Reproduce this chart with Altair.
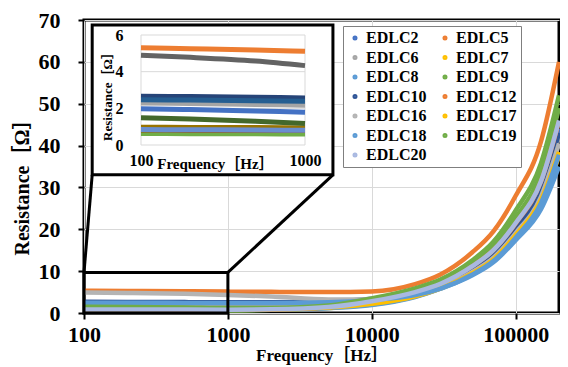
import altair as alt
import pandas as pd

SERIES = ["EDLC2", "EDLC5", "EDLC6", "EDLC7", "EDLC8", "EDLC9", "EDLC10",
          "EDLC12", "EDLC16", "EDLC17", "EDLC18", "EDLC19", "EDLC20"]
FREQ = [100, 200, 500, 1000, 2000, 5000, 10000, 20000, 30000, 50000,
        70000, 100000, 150000, 200000]

EDLC2 = [1.98, 1.93, 1.85, 1.79, 1.80, 2.15, 3.2, 5.0, 6.8, 10.8, 14.6, 20.8, 30.5, 44.0]
EDLC5 = [5.30, 5.25, 5.18, 5.11, 5.05, 5.00, 5.15, 6.9, 9.2, 14.5, 19.5, 28.0, 41.0, 60.0]
EDLC6 = [2.29, 2.26, 2.21, 2.17, 2.18, 2.40, 3.1, 4.7, 6.4, 10.1, 13.6, 19.6, 28.8, 42.0]
EDLC7 = [0.76, 0.75, 0.74, 0.73, 0.80, 1.20, 2.0, 3.9, 5.9, 9.3, 12.6, 18.2, 26.5, 37.5]
EDLC8 = [0.72, 0.71, 0.70, 0.70, 0.78, 1.15, 1.9, 3.8, 5.8, 9.0, 12.1, 17.4, 24.8, 35.0]
EDLC9 = [0.63, 0.62, 0.61, 0.60, 0.75, 1.45, 2.9, 5.3, 7.3, 11.7, 15.8, 22.8, 33.5, 49.0]
EDLC10 = [2.66, 2.64, 2.60, 2.57, 2.58, 2.80, 3.4, 4.9, 6.6, 10.5, 14.1, 20.3, 29.6, 43.0]
EDLC12 = [0.82, 0.81, 0.80, 0.79, 0.86, 1.40, 2.8, 5.0, 7.0, 11.2, 15.0, 21.4, 31.4, 45.8]
EDLC16 = [4.89, 4.78, 4.58, 4.33, 3.95, 3.25, 3.2, 4.5, 6.1, 9.8, 13.2, 19.1, 27.8, 40.5]
EDLC17 = [0.97, 0.96, 0.95, 0.93, 0.98, 1.30, 2.2, 4.0, 5.9, 9.5, 12.8, 18.6, 27.0, 38.5]
EDLC18 = [2.47, 2.45, 2.41, 2.38, 2.38, 2.55, 3.1, 4.3, 5.8, 9.2, 12.4, 18.0, 26.3, 37.8]
EDLC19 = [1.48, 1.42, 1.30, 1.17, 1.20, 1.80, 3.5, 5.9, 8.0, 12.6, 17.0, 24.5, 35.8, 52.0]
EDLC20 = [0.84, 0.83, 0.82, 0.80, 0.88, 1.42, 2.8, 5.0, 7.0, 11.2, 15.0, 21.5, 31.5, 46.0]

VALUES = [EDLC2, EDLC5, EDLC6, EDLC7, EDLC8, EDLC9, EDLC10, EDLC12,
          EDLC16, EDLC17, EDLC18, EDLC19, EDLC20]

MAIN_COLORS = ["#4472C4", "#ED7D31", "#A5A5A5", "#FFC000", "#5B9BD5", "#70AD47",
               "#2F5597", "#ED7D31", "#B4B4B4", "#FFC000", "#5B9BD5", "#70AD47",
               "#A9B9E1"]
INSET_COLORS = ["#4472C4", "#ED7D31", "#A5A5A5", "#FFC000", "#5B9BD5", "#70AD47",
                "#264478", "#9E480E", "#636363", "#997300", "#255E91", "#43682B",
                "#698ED0"]

X_TICKS = [100, 1000, 10000, 100000]
Y_TICKS = [0, 10, 20, 30, 40, 50, 60, 70]
INSET_X_TICKS = [100, 1000]
INSET_Y_TICKS = [0, 2, 4, 6]

ZOOM_F = [100, 1000]
ZOOM_R = [0, 9.7]
INSET_BOX_F = [114, 5370]
INSET_BOX_R = [33.0, 68.8]

FONT = "Liberation Serif, Noto Sans CJK JP"

rows = []
for name, vals in zip(SERIES, VALUES):
    for f, r in zip(FREQ, vals):
        rows.append({"series": name, "f": f, "r": r})
main_df = pd.DataFrame(rows)
inset_df = main_df[main_df["f"] <= 1000].reset_index(drop=True)

zoom_df = pd.DataFrame([{"f": ZOOM_F[0], "f2": ZOOM_F[1], "r": ZOOM_R[0], "r2": ZOOM_R[1]}])
conn_df = pd.DataFrame([
    {"f": ZOOM_F[0], "r": ZOOM_R[1], "f2": INSET_BOX_F[0], "r2": INSET_BOX_R[0]},
    {"f": ZOOM_F[1], "r": ZOOM_R[1], "f2": INSET_BOX_F[1], "r2": INSET_BOX_R[0]},
])
frame_df = pd.DataFrame([{"f": INSET_BOX_F[0], "f2": INSET_BOX_F[1],
                          "r": INSET_BOX_R[0], "r2": INSET_BOX_R[1]}])

grid_rows = []
for yv in INSET_Y_TICKS:
    grid_rows.append({"f": INSET_X_TICKS[0], "f2": INSET_X_TICKS[1], "r": yv, "r2": yv})
for xv in INSET_X_TICKS:
    grid_rows.append({"f": xv, "f2": xv, "r": INSET_Y_TICKS[0], "r2": INSET_Y_TICKS[-1]})
igrid_df = pd.DataFrame(grid_rows)

W, H = 475, 293

xs = alt.Scale(type="log", domain=[100, 200000], nice=False)
ys = alt.Scale(domain=[0, 70], nice=False)

common_axis = dict(labelFont=FONT, labelFontWeight="bold", labelColor="black",
                   titleFont=FONT, titleFontWeight="bold", titleColor="black",
                   labelFlush=False)

x_axis = alt.Axis(values=X_TICKS, format="d", grid=True, gridColor="#D9D9D9",
                  domain=False, ticks=True, tickColor="black", tickSize=6, tickWidth=2,
                  labelFontSize=22, labelPadding=5,
                  title="Frequency［Hz］", titleFontSize=17, titleY=42,
                  titleBaseline="middle", **common_axis)
y_axis = alt.Axis(values=Y_TICKS, grid=True, gridColor="#D9D9D9",
                  domain=False, ticks=True, tickColor="black", tickSize=6, tickWidth=2,
                  labelFontSize=22, labelPadding=18,
                  title="Resistance［Ω］", titleFontSize=20, titleX=-62, titleY=162,
                  titleAlign="center", titleBaseline="middle", titleAngle=270,
                  **common_axis)

legend = alt.Legend(orient="none", legendX=259, legendY=6, columns=2, direction="horizontal",
                    title=None, symbolType="circle", symbolSize=8, symbolStrokeWidth=2.2,
                    labelFont=FONT, labelFontSize=16, labelFontWeight="bold",
                    labelColor="black", labelOffset=3, rowPadding=3.5,
                    columnPadding=10, padding=4, fillColor="white",
                    strokeColor="#7F7F7F")

X = alt.X("f:Q", scale=xs, axis=x_axis)
Y = alt.Y("r:Q", scale=ys, axis=y_axis)

main_lines = alt.Chart(main_df).mark_line(strokeWidth=4.5, interpolate="monotone").encode(
    x=X, y=Y,
    color=alt.Color("series:N", scale=alt.Scale(domain=SERIES, range=MAIN_COLORS),
                    legend=legend),
)
zoom_rect = alt.Chart(zoom_df).mark_rect(fillOpacity=0, stroke="black", strokeWidth=3).encode(
    x=X, x2="f2:Q", y=Y, y2="r2:Q")
connectors = alt.Chart(conn_df).mark_rule(color="black", strokeWidth=3).encode(
    x=X, x2="f2:Q", y=Y, y2="r2:Q")
inset_frame = alt.Chart(frame_df).mark_rect(fill="white", stroke="black", strokeWidth=3).encode(
    x=X, x2="f2:Q", y=Y, y2="r2:Q")

main_group = alt.layer(main_lines, zoom_rect, connectors, inset_frame)

ixs = alt.Scale(type="log", domain=[100, 1000], nice=False, range=[57, 221])
iys = alt.Scale(domain=[0, 6], nice=False, range=[125, 15])

ix_axis = alt.Axis(orient="bottom", offset=-168, values=INSET_X_TICKS, format="d",
                   grid=False, domain=False, ticks=False, labelFontSize=16, labelPadding=7,
                   title="Frequency［Hz］", titleFontSize=15, titleX=131, titleY=18,
                   titleAlign="center", titleBaseline="middle", zindex=2, **common_axis)
iy_axis = alt.Axis(orient="left", offset=-57, values=INSET_Y_TICKS,
                   grid=False, domain=False, ticks=False, labelFontSize=16, labelPadding=18,
                   title="Resistance［Ω］", titleFontSize=13, titleX=-34, titleY=73,
                   titleAlign="center", titleBaseline="middle", titleAngle=270,
                   zindex=2, **common_axis)

IX = alt.X("f:Q", scale=ixs, axis=ix_axis)
IY = alt.Y("r:Q", scale=iys, axis=iy_axis)

inset_grid = alt.Chart(igrid_df).mark_rule(color="#D9D9D9", strokeWidth=1).encode(
    x=IX, x2="f2:Q", y=IY, y2="r2:Q")
inset_lines = alt.Chart(inset_df).mark_line(strokeWidth=5, interpolate="monotone").encode(
    x=IX, y=IY,
    color=alt.Color("series:N", scale=alt.Scale(domain=SERIES, range=INSET_COLORS),
                    legend=None),
)
inset_group = alt.layer(inset_grid, inset_lines)

chart = alt.layer(main_group, inset_group).resolve_scale(
    x="independent", y="independent", color="independent"
).properties(
    width=W, height=H,
    autosize=alt.AutoSizeParams(type="none"),
    padding={"left": 76, "top": 12, "right": 1, "bottom": 56},
).configure_view(stroke="black", strokeWidth=3)

chart.save("out.html", embed_options={"renderer": "svg", "actions": False})
